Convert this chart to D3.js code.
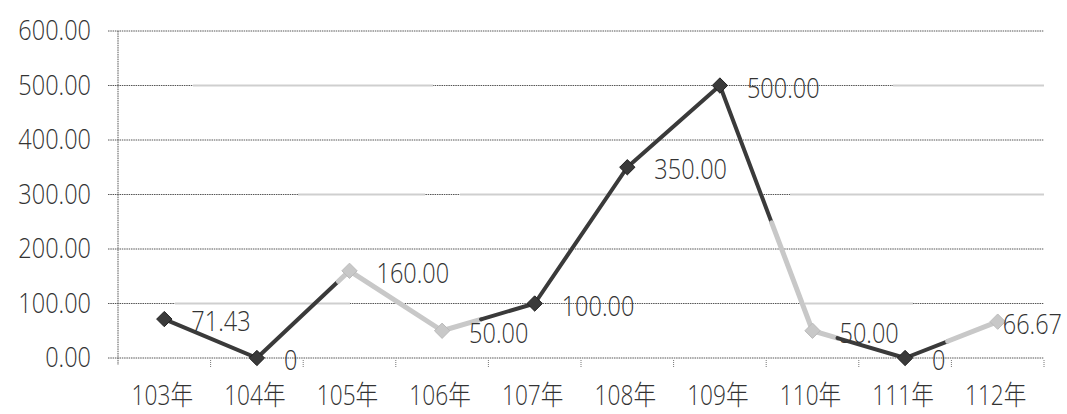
<!DOCTYPE html>
<html><head><meta charset="utf-8">
<script src="https://cdn.jsdelivr.net/npm/d3@7/dist/d3.min.js"></script>
<style>
html,body{margin:0;padding:0;background:#fff;}
svg text{font-family:"Open Sans","Noto Sans CJK TC",sans-serif;font-weight:300;fill:#333;}
</style></head>
<body><svg id="c" width="1067" height="414"></svg>
<script>
const categories = ["103年","104年","105年","106年","107年","108年","109年","110年","111年","112年"];
const values = [71.43, 0, 160, 50, 100, 350, 500, 50, 0, 66.67];
const valueLabels = ["71.43","0","160.00","50.00","100.00","350.00","500.00","50.00","0","66.67"];
const yTicks = [0,100,200,300,400,500,600];

(function(){
const svg = d3.select("#c");
const pL = 118, pR = 1044, pT = 31, pB = 358;
const x = d3.scaleBand().domain(categories).range([pL, pR]);
const y = d3.scaleLinear().domain([0, 600]).range([pB, pT]);
const cx = c => x(c) + x.bandwidth()/2;
const DARK = "#3a3a3a", LIGHT = "#c8c8c8";
const FS = 28, SX = 0.84;

const lightGrid = {500: [[193,433],[893,1044]], 300: [[298,425],[460,760],[790,1044]], 100: [[175,350],[805,913]]};
yTicks.forEach(t => {
  svg.append("line").attr("x1", pL-10).attr("x2", pR).attr("y1", y(t)).attr("y2", y(t))
    .attr("stroke", "#555").attr("stroke-width", 1).attr("stroke-dasharray", "1.5,0.8");
  (lightGrid[t] || []).forEach(([a,b]) => {
    svg.append("line").attr("x1", a).attr("x2", b).attr("y1", y(t)).attr("y2", y(t))
      .attr("stroke", "#fff").attr("stroke-width", 2);
    svg.append("line").attr("x1", a).attr("x2", b).attr("y1", y(t)).attr("y2", y(t))
      .attr("stroke", "#cfcfcf").attr("stroke-width", 2);
  });
});
svg.append("line").attr("x1", pL).attr("x2", pL).attr("y1", pT).attr("y2", pB+7)
  .attr("stroke", "#555").attr("stroke-width", 1).attr("stroke-dasharray", "1.5,0.8");
categories.forEach((c,i) => {
  const xx = x(c) + x.bandwidth();
  svg.append("line").attr("x1", xx).attr("x2", xx).attr("y1", pB+2).attr("y2", pB+9)
    .attr("stroke", "#777").attr("stroke-width", 1).attr("stroke-dasharray", "1,1");
});
const place = (px, py) => `translate(${px},${py}) scale(${SX},1)`;
svg.selectAll(".yl").data(yTicks).join("text").attr("class","yl")
  .attr("transform", d => place(91, y(d) - 1)).attr("dy", "0.36em").attr("text-anchor","end")
  .attr("font-size", FS).text(d => d3.format(".2f")(d));
svg.selectAll(".xl").data(categories).join("text").attr("class","xl")
  .attr("transform", d => place(cx(d) - 2, 405)).attr("text-anchor","middle")
  .attr("font-size", 27).text(d => d);

const segStyle = [[1,DARK,DARK],[0.88,DARK,LIGHT],[1,LIGHT,LIGHT],[0.42,LIGHT,DARK],[1,DARK,DARK],
                  [1,DARK,DARK],[0.56,DARK,LIGHT],[0.27,LIGHT,DARK],[0.46,DARK,LIGHT]];
for (let i = 0; i < values.length-1; i++) {
  const x1 = cx(categories[i]), y1 = y(values[i]), x2 = cx(categories[i+1]), y2 = y(values[i+1]);
  const [f,c1,c2] = segStyle[i];
  const xm = x1 + (x2-x1)*f, ym = y1 + (y2-y1)*f;
  svg.append("line").attr("x1",x1).attr("y1",y1).attr("x2",xm).attr("y2",ym)
    .attr("stroke",c1).attr("stroke-width", c1===DARK?4:5).attr("stroke-linecap","round");
  if (f < 1) svg.append("line").attr("x1",xm).attr("y1",ym).attr("x2",x2).attr("y2",y2)
    .attr("stroke",c2).attr("stroke-width", c2===DARK?4:5).attr("stroke-linecap","round");
}
const markerColor = [DARK,DARK,LIGHT,LIGHT,DARK,DARK,DARK,LIGHT,DARK,LIGHT];
svg.selectAll(".m").data(values).join("path").attr("class","m")
  .attr("d", d3.symbol(d3.symbolDiamond2, 150))
  .attr("transform", (d,i) => `translate(${cx(categories[i])},${y(d)})`)
  .attr("fill", (d,i) => markerColor[i]).attr("stroke", (d,i)=> markerColor[i]===DARK?"#222":"#bbb").attr("stroke-width",1);
svg.selectAll(".dl").data(values).join("text").attr("class","dl")
  .attr("transform", (d,i) => place(i === values.length-1 ? 1062 : cx(categories[i]) + 27, y(d) + 2))
  .attr("text-anchor", (d,i) => i === values.length-1 ? "end" : "start")
  .attr("dy","0.36em")
  .attr("font-size", FS).text((d,i) => valueLabels[i]);
})();
</script></body></html>
